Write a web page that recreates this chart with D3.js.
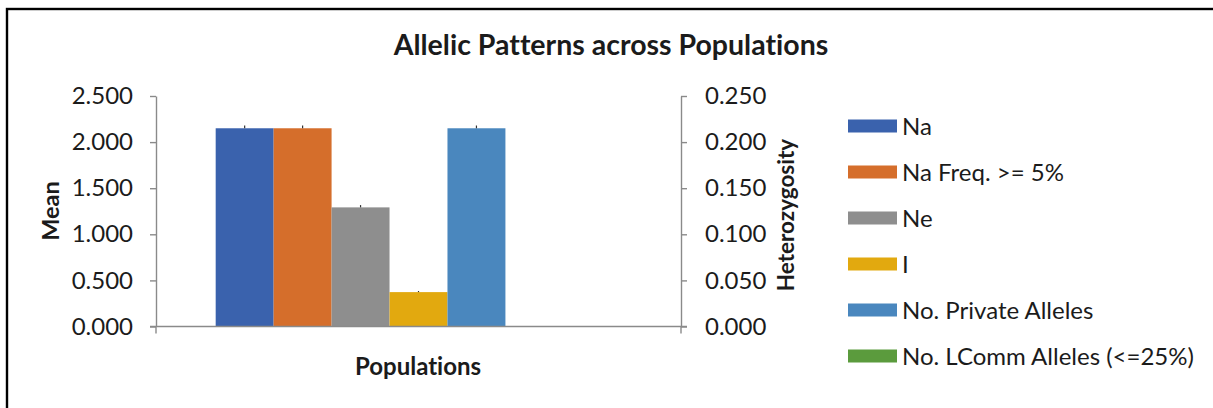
<!DOCTYPE html>
<html>
<head>
<meta charset="utf-8">
<script src="https://cdn.jsdelivr.net/npm/d3@7"></script>
<style>
  html, body { margin: 0; padding: 0; background: #fff; }
  svg { display: block; }
  text { font-family: Lato, "Open Sans", sans-serif; fill: #1b1b1b; font-variant-ligatures: none; font-feature-settings: "liga" 0, "clig" 0; }
</style>
</head>
<body>
<svg id="chart" width="1213" height="408"></svg>
<script>
// Allelic pattern summary for one population
const category = "Population";
const seriesNames = ["Na", "Na Freq. >= 5%", "Ne", "I", "No. Private Alleles", "No. LComm Alleles (<=25%)"];
const seriesMeans = [2.150, 2.150, 1.292, 0.373, 2.150, 0.000];
const seriesSE = [0.030, 0.030, 0.025, 0.012, 0.030, 0.000];
const seriesColors = ["#3a62ad", "#d56e2b", "#8e8e8e", "#e2a90f", "#4a87be", "#5b9b3d"];
const meanTicks = [0, 0.5, 1.0, 1.5, 2.0, 2.5];
const hetTicks = [0, 0.05, 0.10, 0.15, 0.20, 0.25];

const svg = d3.select("#chart");
const W = 1213, H = 408;
const plot = { left: 156, right: 681, top: 96, bottom: 326.5 };

// frame
svg.append("rect")
  .attr("x", 7).attr("y", 9)
  .attr("width", W + 20).attr("height", H + 20)
  .attr("fill", "none").attr("stroke", "#000").attr("stroke-width", 2.4);

// scales
const x0 = d3.scaleBand().domain([category]).range([plot.left, plot.right]).padding(0);
// seven bar slots per category: six listed series plus the (empty) heterozygosity slot
const x1 = d3.scaleBand()
  .domain(d3.range(seriesNames.length + 1))
  .range([0, x0.bandwidth()])
  .paddingInner(0).paddingOuter(1.03);
const y = d3.scaleLinear().domain([0, 2.5]).range([plot.bottom, plot.top]);
const y2 = d3.scaleLinear().domain([0, 0.25]).range([plot.bottom, plot.top]);

// title
svg.append("text")
  .attr("x", 611).attr("y", 55)
  .attr("text-anchor", "middle")
  .style("font-size", "28.5px").style("font-weight", "bold")
  .text("Allelic Patterns across Populations");

// bars
const data = seriesNames.map((name, i) => ({ name, mean: seriesMeans[i], se: seriesSE[i], color: seriesColors[i], i }));
const g = svg.append("g").attr("transform", `translate(${x0(category)},0)`);
g.selectAll("rect.bar").data(data).join("rect")
  .attr("class", "bar")
  .attr("x", d => x1(d.i))
  .attr("width", x1.bandwidth())
  .attr("y", d => y(d.mean))
  .attr("height", d => y(0) - y(d.mean))
  .attr("fill", d => d.color);

// error whiskers
g.selectAll("line.err").data(data.filter(d => d.mean > 0)).join("line")
  .attr("class", "err")
  .attr("x1", d => x1(d.i) + x1.bandwidth() / 2)
  .attr("x2", d => x1(d.i) + x1.bandwidth() / 2)
  .attr("y1", d => y(d.mean))
  .attr("y2", d => y(d.mean + d.se))
  .attr("stroke", "#333").attr("stroke-width", 1.2);

// axes
const axisColor = "#8a8a8a";
function styleAxis(sel, fontSize) {
  sel.selectAll("path, line").attr("stroke", axisColor).attr("stroke-width", 1.4);
  sel.selectAll("text").style("font-size", fontSize).attr("fill", "#1b1b1b");
}

const leftAxis = svg.append("g")
  .attr("transform", `translate(${plot.left},0)`)
  .call(d3.axisLeft(y).tickValues(meanTicks).tickFormat(d3.format(".3f")).tickSize(6).tickSizeOuter(0).tickPadding(17));
styleAxis(leftAxis, "24px");

const rightAxis = svg.append("g")
  .attr("transform", `translate(${plot.right},0)`)
  .call(d3.axisRight(y2).tickValues(hetTicks).tickFormat(d3.format(".3f")).tickSize(6).tickSizeOuter(0).tickPadding(18));
styleAxis(rightAxis, "24px");

// category axis with boundary ticks
const bottomAxis = svg.append("g").attr("transform", `translate(0,${plot.bottom})`);
bottomAxis.append("line")
  .attr("x1", plot.left - 6).attr("x2", plot.right + 6)
  .attr("stroke", axisColor).attr("stroke-width", 1.4);
bottomAxis.selectAll("line.bt").data([x0(category), x0(category) + x0.bandwidth()]).join("line")
  .attr("class", "bt")
  .attr("x1", d => d).attr("x2", d => d)
  .attr("y1", 0).attr("y2", 7)
  .attr("stroke", axisColor).attr("stroke-width", 1.4);

// axis titles
svg.append("text")
  .attr("transform", `translate(59,211) rotate(-90)`)
  .attr("text-anchor", "middle")
  .style("font-size", "23.5px").style("font-weight", "bold")
  .text("Mean");

svg.append("text")
  .attr("transform", `translate(794,215) rotate(-90)`)
  .attr("text-anchor", "middle")
  .style("font-size", "22.5px").style("font-weight", "bold")
  .text("Heterozygosity");

svg.append("text")
  .attr("x", x0(category) + x0.bandwidth() / 2 - 0.5).attr("y", 375)
  .attr("text-anchor", "middle")
  .style("font-size", "24px").style("font-weight", "bold")
  .text("Populations");

// legend
const legendY = d3.scalePoint().domain(seriesNames).range([126, 356]);
const legend = svg.append("g");
const rows = legend.selectAll("g").data(data).join("g")
  .attr("transform", d => `translate(848,${legendY(d.name)})`);
rows.append("rect")
  .attr("x", 0).attr("y", -6.5).attr("width", 49).attr("height", 13)
  .attr("fill", d => d.color);
rows.append("text")
  .attr("x", 54).attr("y", 0).attr("dy", "0.36em")
  .style("font-size", "24px")
  .text(d => d.name);
</script>
</body>
</html>
